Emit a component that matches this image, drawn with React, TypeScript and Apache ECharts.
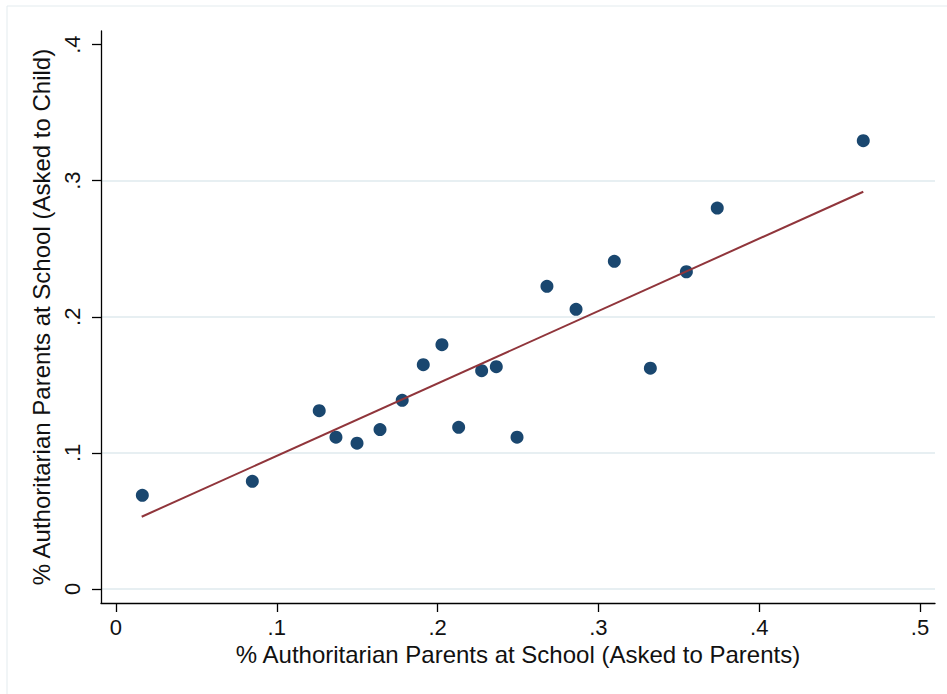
import React, { useEffect, useRef } from "react";
import * as echarts from "echarts";

// Data
const parentShare: number[] = [
  0.0164, 0.0848, 0.1264, 0.1368, 0.1499, 0.1642, 0.178, 0.1911, 0.2027, 0.2131,
  0.2274, 0.2365, 0.2494, 0.268, 0.2861, 0.3099, 0.3323, 0.3547, 0.3739, 0.4647,
];
const childShare: number[] = [
  0.0688, 0.0791, 0.131, 0.1115, 0.1071, 0.1171, 0.1386, 0.1648, 0.1795, 0.1188,
  0.1604, 0.1633, 0.1115, 0.2224, 0.2055, 0.2408, 0.1622, 0.2331, 0.2799, 0.3294,
];
const fitX: number[] = [0.016, 0.4647];
const fitY: number[] = [0.0531, 0.2919];
const xTicks: number[] = [0, 0.1, 0.2, 0.3, 0.4, 0.5];
const yTicks: number[] = [0, 0.1, 0.2, 0.3, 0.4];
// grid line drawn for each y tick except the top one
const yGridShown: boolean[] = [true, true, true, true, false];

const xTitle = "% Authoritarian Parents at School (Asked to Parents)";
const yTitle = "% Authoritarian Parents at School (Asked to Child)";

const fmt = (v: number) => (v === 0 ? "0" : String(Math.round(v * 10) / 10).replace(/^0/, ""));

export default function App() {
  const ref = useRef<HTMLDivElement>(null);
  useEffect(() => {
    if (!ref.current) return;
    const chart = echarts.init(ref.current, undefined, { renderer: "svg" });
    const font = "'Liberation Sans', Arial, sans-serif";
    const textColor = "#111111";
    const gridColor = "#e7eff2";
    chart.setOption({
      animation: false,
      backgroundColor: "#ffffff",
      textStyle: { fontFamily: font },
      graphic: [
        {
          type: "rect",
          shape: { x: 7, y: 6, width: 1000, height: 1000 },
          style: { fill: "none", stroke: "#e3ebee", lineWidth: 1 },
          silent: true,
          z: -1,
        },
      ],
      grid: { left: 101, right: 12, top: 31, bottom: 91, containLabel: false },
      xAxis: {
        type: "value",
        min: -0.0093,
        max: 0.5093,
        name: xTitle,
        nameLocation: "middle",
        nameGap: 38,
        nameTextStyle: { fontSize: 24, color: textColor, fontFamily: font },
        axisLine: { show: true, onZero: false, lineStyle: { color: "#000000", width: 1.3 } },
        axisTick: { show: true, customValues: xTicks, length: 9, lineStyle: { color: "#000000", width: 1.3 } },
        axisLabel: {
          customValues: xTicks,
          formatter: (v: number) => fmt(v),
          fontSize: 22,
          color: textColor,
          margin: 13,
          fontFamily: font,
        },
        splitLine: { show: false },
      },
      yAxis: {
        type: "value",
        min: -0.0103,
        max: 0.41,
        name: yTitle,
        nameLocation: "middle",
        nameGap: 43,
        nameTextStyle: { fontSize: 24, color: textColor, fontFamily: font },
        axisLine: { show: true, onZero: false, lineStyle: { color: "#000000", width: 1.3 } },
        axisTick: { show: true, customValues: yTicks, length: 9, lineStyle: { color: "#000000", width: 1.3 } },
        axisLabel: {
          customValues: yTicks,
          formatter: (v: number) => fmt(v),
          rotate: 90,
          fontSize: 22,
          color: textColor,
          margin: 18,
          fontFamily: font,
        },
        splitLine: {
          show: true,
          lineStyle: {
            color: yGridShown.map((s) => (s ? gridColor : "rgba(0,0,0,0)")),
            width: 2,
          },
        },
      },
      series: [
        {
          name: "points",
          type: "scatter",
          z: 3,
          symbol: "circle",
          symbolSize: 13,
          itemStyle: { color: "#1a476f", opacity: 1 },
          data: parentShare.map((x, i) => [x, childShare[i]]),
        },
        {
          name: "fit",
          type: "line",
          z: 4,
          showSymbol: false,
          symbol: "none",
          lineStyle: { color: "#90353b", width: 2 },
          data: fitX.map((x, i) => [x, fitY[i]]),
        },
      ],
    });
    return () => chart.dispose();
  }, []);
  return (
    <div
      ref={ref}
      style={{ position: "absolute", left: 0, top: 0, width: 947, height: 694 }}
    />
  );
}
